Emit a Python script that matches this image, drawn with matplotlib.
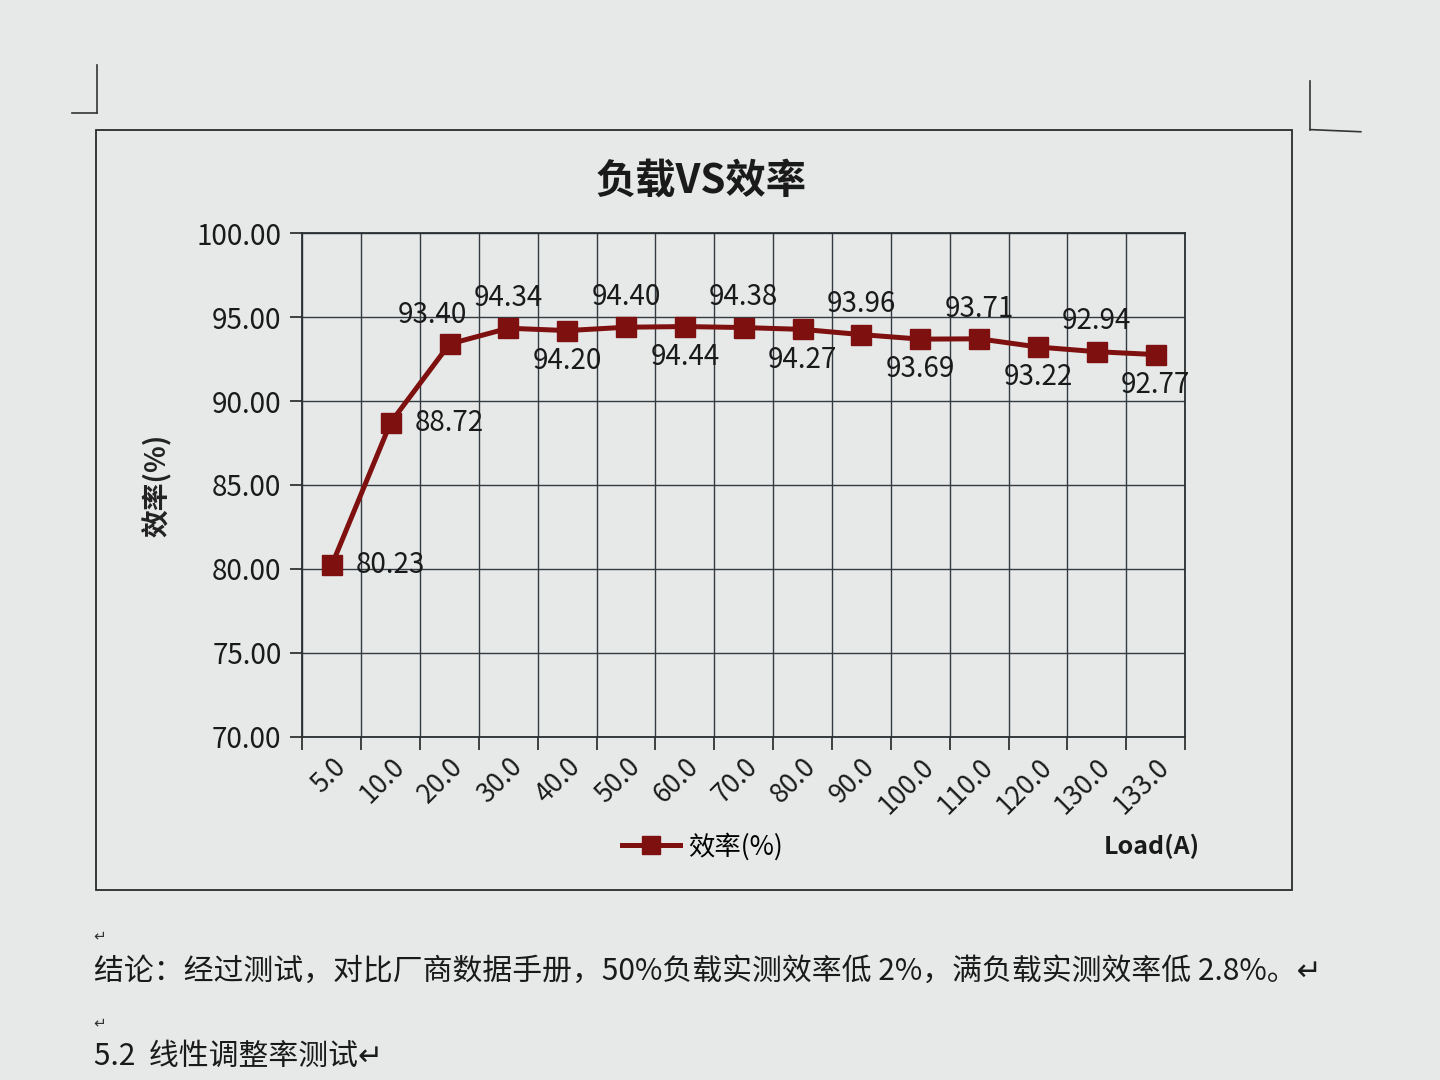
import matplotlib
matplotlib.use('Agg')
import matplotlib.pyplot as plt
from matplotlib.patches import Rectangle
from matplotlib.lines import Line2D

plt.rcParams['font.family'] = ['Noto Sans CJK SC', 'DejaVu Sans']

# data
loads = ['5.0', '10.0', '20.0', '30.0', '40.0', '50.0', '60.0', '70.0',
         '80.0', '90.0', '100.0', '110.0', '120.0', '130.0', '133.0']
efficiency = [80.23, 88.72, 93.40, 94.34, 94.20, 94.40, 94.44, 94.38,
              94.27, 93.96, 93.69, 93.71, 93.22, 92.94, 92.77]
y_ticks = [70, 75, 80, 85, 90, 95, 100]

paper = '#e7e9e9'
red = '#7f1010'

fig = plt.figure(figsize=(14.4, 10.8), dpi=100, facecolor=paper)
ax = fig.add_axes([0.21, 0.318, 0.613, 0.466])
ax.set_facecolor(paper)

x = list(range(len(loads)))
ax.plot(x, efficiency, color=red, lw=3.6, marker='s', markersize=14,
        markerfacecolor=red, markeredgecolor=red, zorder=5)

# label placement like the Excel chart (right / above / below)
label_pos = ['right', 'right', 'aboveleft', 'above', 'below', 'above', 'below',
             'above', 'below', 'above', 'below', 'above', 'below', 'above', 'below']
for xi, v, p in zip(x, efficiency, label_pos):
    if p == 'right':
        off, ha, va = (17, 0), 'left', 'center'
    elif p == 'aboveleft':
        off, ha, va = (-12, 10), 'center', 'bottom'
    elif p == 'above':
        off, ha, va = (0, 11), 'center', 'bottom'
    else:
        off, ha, va = (0, -11), 'center', 'top'
    ax.annotate('%.2f' % v, (xi, v), xytext=off, textcoords='offset points',
                ha=ha, va=va, fontsize=20, color='#1a1a1a', zorder=6)

ax.set_xlim(-0.5, len(loads) - 0.5)
ax.set_ylim(70, 100)
ax.set_yticks(y_ticks)
ax.set_yticklabels(['%.2f' % t for t in y_ticks], fontsize=20, color='#1a1a1a')

# category boundaries carry the ticks and grid, labels sit at the centres
ax.set_xticks([i - 0.5 for i in range(len(loads) + 1)])
ax.set_xticklabels([])
ax.set_xticks(x, minor=True)
ax.set_xticklabels(loads, minor=True, rotation=45, ha='right', va='top',
                   rotation_mode='anchor', fontsize=19, color='#1a1a1a')
ax.tick_params(axis='x', which='minor', length=0, pad=12)
ax.tick_params(axis='x', which='major', length=9, width=1.2, color='#222222', direction='out')
ax.tick_params(axis='y', length=9, width=1.2, color='#222222', direction='out', pad=6)

ax.grid(True, which='major', color='#333a40', lw=1.0)
ax.set_axisbelow(True)
for s in ax.spines.values():
    s.set_color('#2a2f33')
    s.set_linewidth(1.3)

ax.set_ylabel('效率(%)', fontsize=20, fontweight='bold', color='#222222', labelpad=18)
fig.text(0.487, 0.832, '负载VS效率', fontsize=29, fontweight='bold',
         ha='center', va='center', color='#1a1a1a')

# legend and axis title below the chart
leg_handle = Line2D([0], [0], color=red, lw=3.6, marker='s', markersize=13,
                    markerfacecolor=red, markeredgecolor=red)
fig.legend([leg_handle], ['效率(%)'], loc='center', bbox_to_anchor=(0.488, 0.216),
           frameon=False, fontsize=19, handlelength=2.2, handletextpad=0.3)
fig.text(0.80, 0.216, 'Load(A)', fontsize=18, fontweight='bold',
         ha='center', va='center', color='#1a1a1a')

# chart frame and page corner marks
fig.patches.append(Rectangle((0.067, 0.176), 0.83, 0.704, transform=fig.transFigure,
                             fill=False, edgecolor='#2a2a2a', lw=1.3))
fig.add_artist(Line2D([0.0674, 0.0674], [0.94, 0.895], color='#333333', lw=1.2))
fig.add_artist(Line2D([0.05, 0.0674], [0.895, 0.895], color='#333333', lw=1.2))
fig.add_artist(Line2D([0.91, 0.91], [0.925, 0.88], color='#333333', lw=1.2))
fig.add_artist(Line2D([0.91, 0.945], [0.88, 0.878], color='#333333', lw=1.2))

# surrounding document text
fig.text(0.065, 0.133, '↵', fontsize=11, color='#333333', va='center')
fig.text(0.065, 0.101, '结论：经过测试，对比厂商数据手册，50%负载实测效率低 2%，满负载实测效率低 2.8%。↵',
         fontsize=21.5, color='#1a1a1a', va='center')
fig.text(0.065, 0.053, '↵', fontsize=11, color='#333333', va='center')
fig.text(0.065, 0.022, '5.2  线性调整率测试↵', fontsize=21.5, color='#1a1a1a', va='center')

fig.savefig('out.png', dpi=100, facecolor=paper)
